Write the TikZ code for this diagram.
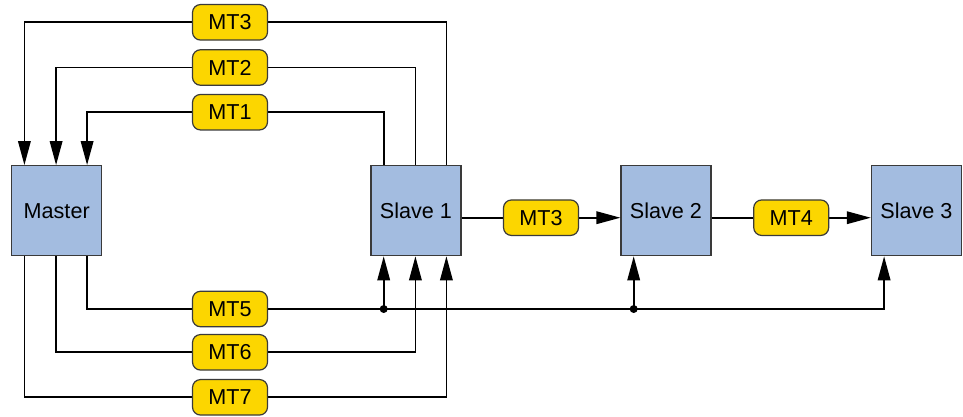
\documentclass[tikz,border=0pt]{standalone}
\usepackage{fontspec}
\setmainfont{Liberation Sans}
\usetikzlibrary{arrows.meta}
\definecolor{boxfill}{HTML}{A3BCE0}
\definecolor{boxdraw}{HTML}{3A3A3A}
\definecolor{lblfill}{HTML}{FCD600}
\tikzset{
  box/.style={draw=boxdraw, fill=boxfill, line width=1.2pt, minimum width=90pt, minimum height=90pt, inner sep=0pt, font=\fontsize{21.6}{24}\selectfont},
  lbl/.style={draw=boxdraw, fill=lblfill, line width=1.2pt, rounded corners=8pt, minimum width=75pt, minimum height=35.5pt, inner sep=0pt, font=\fontsize{21.6}{24}\selectfont},
  conn/.style={line width=1.8pt, black},
  arr/.style={conn, -{Triangle[length=24pt, width=12.5pt]}},
}
\begin{document}
\begin{tikzpicture}[x=1pt, y=-1pt]
\useasboundingbox (0,0) rectangle (963,416);
% boxes
\node[box] (master) at (56.7,210.7) {Master};
\node[box] (s1) at (416,210.7) {Slave 1};
\node[box] (s2) at (666,210.7) {Slave 2};
\node[box] (s3) at (916.4,210.7) {Slave 3};
% label positions
\coordinate (c3) at (230,22.3);
\coordinate (c2) at (230,67.5);
\coordinate (c1) at (230,112.2);
\coordinate (c5) at (230,309);
\coordinate (c6) at (230,352.3);
\coordinate (c7) at (230,397.3);
% top connectors
\draw[arr] ([xshift=76pt]s1.north west) |- (c3) -| ([xshift=13.3pt]master.north west);
\draw[arr] ([xshift=45pt]s1.north west) |- (c2) -| ([xshift=45pt]master.north west);
\draw[arr] ([xshift=13.3pt]s1.north west) |- (c1) -| ([xshift=76pt]master.north west);
% bottom connectors
\draw[arr] ([xshift=76pt]master.south west) |- (c5) -| ([xshift=13.3pt]s3.south west);
\coordinate (j1) at ([xshift=13.3pt]s1.south west |- c5);
\coordinate (j2) at ([xshift=13.3pt]s2.south west |- c5);
\draw[arr] (j1) -- ([xshift=13.3pt]s1.south west);
\draw[arr] (j2) -- ([xshift=13.3pt]s2.south west);
\fill (j1) circle (4pt);
\fill (j2) circle (4pt);
\draw[arr] ([xshift=45pt]master.south west) |- (c6) -| ([xshift=45pt]s1.south west);
\draw[arr] ([xshift=13.3pt]master.south west) |- (c7) -| ([xshift=76pt]s1.south west);
% labels
\node[lbl] (mt3) at (c3) {MT3};
\node[lbl] (mt2) at (c2) {MT2};
\node[lbl] (mt1) at (c1) {MT1};
\node[lbl] (mt5) at (c5) {MT5};
\node[lbl] (mt6) at (c6) {MT6};
\node[lbl] (mt7) at (c7) {MT7};
% chain
\draw[arr] ([yshift=-7pt]s1.east) -- node[lbl, pos=0.5] (mt3b) {MT3} ([yshift=-7pt]s2.west);
\draw[arr] ([yshift=-7pt]s2.east) -- node[lbl, pos=0.5] (mt4) {MT4} ([yshift=-7pt]s3.west);
\end{tikzpicture}
\end{document}
